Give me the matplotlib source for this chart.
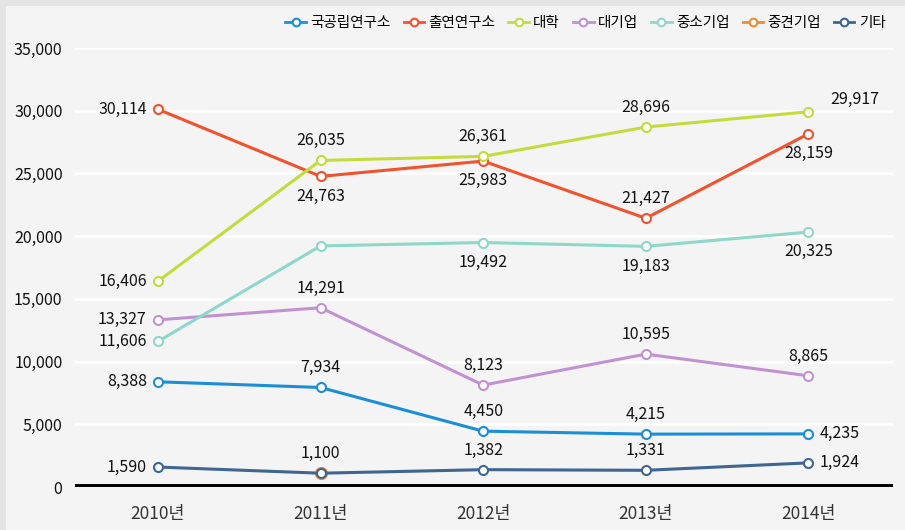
import matplotlib
matplotlib.use("Agg")
import matplotlib.pyplot as plt
from matplotlib.patches import Rectangle

years = ["2010년", "2011년", "2012년", "2013년", "2014년"]
series_names = ["국공립연구소", "출연연구소", "대학", "대기업", "중소기업", "중견기업", "기타"]
colors = ["#1a8fd6", "#f0532d", "#c3dc3c", "#c192d2", "#8ed8c9", "#f28a2c", "#3f6591"]

national = [8388, 7934, 4450, 4215, 4235]
gov_funded = [30114, 24763, 25983, 21427, 28159]
university = [16406, 26035, 26361, 28696, 29917]
large_corp = [13327, 14291, 8123, 10595, 8865]
small_corp = [11606, 19220, 19492, 19183, 20325]
mid_corp = [None, 1100, None, None, None]
others = [1590, 1100, 1382, 1331, 1924]

values = [national, gov_funded, university, large_corp, small_corp, mid_corp, others]

# where each value label sits relative to its point: l=left, r=right, a=above, b=below, ar=above right, n=none
label_pos = [
    ["l", "a", "a", "a", "r"],
    ["l", "b", "b", "a", "b"],
    ["l", "a", "a", "a", "ar"],
    ["l", "a", "a", "a", "a"],
    ["l", "n", "b", "b", "b"],
    ["n", "a", "n", "n", "n"],
    ["l", "n", "a", "a", "r"],
]

offsets = {"l": (-8, 0, "right", "center"), "r": (8, 0, "left", "center"),
           "a": (0, 8, "center", "bottom"), "b": (0, -8, "center", "top"),
           "ar": (16, 3, "left", "bottom")}

num_font = ["Noto Sans CJK KR", "DejaVu Sans"]

fig = plt.figure(figsize=(9.05, 5.30), dpi=100, facecolor="#e4e4e4")
fig.patches.append(Rectangle((6 / 905, 0), 1, 1 - 6 / 530, transform=fig.transFigure,
                             facecolor="#f4f4f4", edgecolor="none", zorder=-10))

ax = fig.add_axes([75 / 905, 43 / 530, 818 / 905, 439 / 530])
ax.set_zorder(1)
ax.set_facecolor("none")
for s in ax.spines.values():
    s.set_visible(False)

x = list(range(len(years)))
order = [0, 1, 2, 3, 4, 6, 5]
for k in order:
    name, col, vals, pos = series_names[k], colors[k], values[k], label_pos[k]
    xs = [i for i, v in zip(x, vals) if v is not None]
    ys = [v for v in vals if v is not None]
    ax.plot(xs, ys, color=col, lw=2.2, marker="o", ms=6.5 if k != 5 else 8, mfc="white",
            mec=col, mew=1.5, label=name, zorder=3 if k != 5 else 2.9, clip_on=False)
    for i, v in enumerate(vals):
        if v is None or pos[i] == "n":
            continue
        dx, dy, ha, va = offsets[pos[i]]
        ax.annotate(f"{v:,}", (i, v), xytext=(dx, dy), textcoords="offset points",
                    ha=ha, va=va, fontsize=11.5, family=num_font, color="#111111", zorder=4)

ax.set_xlim(-0.51, 4.52)
ax.set_ylim(0, 35000)
ax.set_yticks(range(0, 35001, 5000))
ax.set_yticklabels([f"{t:,}" for t in range(0, 35001, 5000)], family=num_font, fontsize=11.5,
                   color="#111111")
ax.set_xticks(x)
ax.set_xticklabels(years, family=num_font, fontsize=12.5, color="#333333")
ax.tick_params(length=0)
ax.tick_params(axis="y", pad=9)
ax.tick_params(axis="x", pad=13)
ax.grid(axis="y", color="white", lw=2)
ax.set_axisbelow(True)
ax.axhline(0, color="black", lw=5, zorder=2)

handles, labels = ax.get_legend_handles_labels()
idx = [labels.index(n) for n in series_names]
leg = fig.legend([handles[i] for i in idx], series_names, loc="upper right",
                 bbox_to_anchor=(0.993, 0.995), ncol=7, frameon=False,
                 handlelength=1.4, handletextpad=0.3, columnspacing=0.9,
                 prop={"family": ["Noto Sans CJK KR", "DejaVu Sans"], "size": 10.5})
for h in leg.legend_handles:
    h.set_markersize(5.5)
    h.set_linewidth(2)

fig.savefig("out.png", dpi=100, facecolor=fig.get_facecolor())
